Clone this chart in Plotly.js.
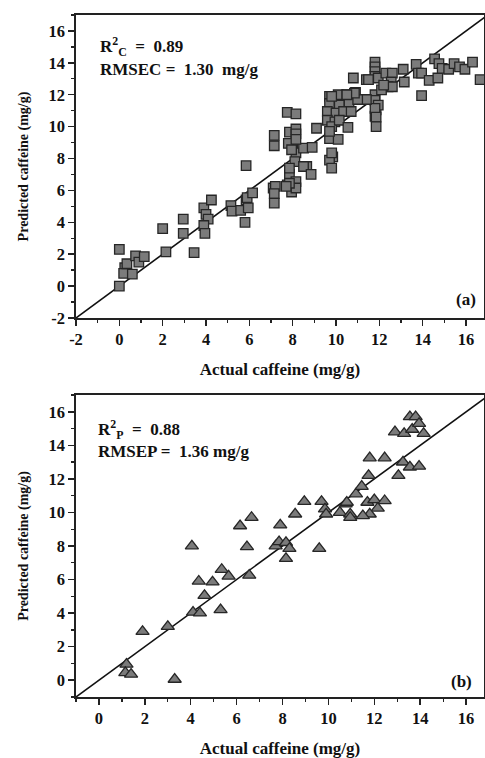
<!DOCTYPE html>
<html>
<head>
<meta charset="utf-8">
<script src="https://cdn.plot.ly/plotly-3.0.1.min.js"></script>
<style>
  html, body { margin: 0; padding: 0; background: #fff; }
  #chart { width: 485px; height: 758px; }
</style>
</head>
<body>
<div id="chart"></div>
<script>
// ---- Calibration set (a) ----
const calActual = [
  0, 0, 0.25, 0.2, 0.35, 0.6, 0.75, 0.9, 1.15,
  2.0, 2.15, 2.95, 2.95, 3.45, 3.9, 4.0, 4.1, 4.25, 3.9, 3.95,
  5.15, 5.2, 5.6, 5.8, 5.85, 5.85, 5.9, 5.95, 6.15,
  7.15, 7.15, 7.1, 7.2, 7.15, 7.15,
  7.75, 8.15, 7.85, 8.15, 8.15, 8.0, 8.15, 8.5, 8.1, 7.85, 8.15, 7.75, 7.95, 8.15, 8.65,
  7.8, 8.15, 7.95, 8.9, 8.5, 7.85, 8.85, 7.85, 7.7, 9.1,
  9.7, 9.7, 10.1, 10.5, 10.9, 10.95, 10.6, 10.15, 9.6, 10.0, 10.35, 10.7, 9.6, 9.95, 9.8,
  10.15, 10.55, 9.7, 10.1, 9.7, 9.85, 9.7, 9.8, 9.8,
  10.8, 11.4, 11.8, 11.8, 11.8, 11.8, 11.5, 11.95, 12.3, 12.6, 12.55, 12.4, 13.1, 13.15,
  13.7, 13.8, 13.95, 13.95, 14.3, 14.7, 14.55, 14.75, 14.9, 15.2, 15.45, 15.7, 15.95, 16.3, 16.65,
  11.3, 11.8, 11.8, 11.85, 11.8, 11.95, 12.1, 11.8, 11.85, 11.85, 11.4, 11.0, 10.85, 10.5, 9.8,
  12.6, 12.2
];
const calPredicted = [
  0, 2.3, 1.15, 0.8, 1.4, 0.75, 1.9, 1.5, 1.85,
  3.6, 2.15, 4.2, 3.3, 2.1, 4.9, 4.5, 4.2, 5.4, 3.8, 3.3,
  5.05, 4.7, 4.75, 4.0, 7.55, 5.4, 5.55, 4.9, 5.85,
  9.45, 8.8, 6.15, 6.25, 5.8, 5.2,
  10.9, 10.8, 9.65, 9.85, 9.55, 8.9, 8.35, 8.65, 7.8, 7.0, 6.55, 6.35, 5.9, 6.15, 7.5,
  8.95, 9.2, 8.55, 8.7, 7.5, 7.4, 7.0, 6.45, 6.25, 9.9,
  11.9, 11.45, 12.0, 12.0, 12.15, 11.7, 11.45, 11.35, 10.95, 10.85, 10.95, 10.95, 10.4, 10.3, 10.0,
  10.4, 9.95, 9.25, 9.2, 9.7, 8.1, 7.9, 7.4, 8.35,
  13.05, 12.95, 14.05, 13.75, 13.45, 13.15, 12.95, 13.05, 13.35, 13.35, 12.8, 12.5, 13.6, 12.8,
  13.9, 13.35, 13.35, 11.95, 12.9, 13.05, 14.25, 13.95, 13.65, 13.6, 13.95, 13.75, 13.6, 14.05, 12.95,
  11.7, 12.0, 11.65, 11.05, 10.65, 11.35, 12.3, 11.15, 10.6, 10.0, 11.7, 11.7, 12.1, 12.0, 11.9,
  12.5, 12.6
];

// ---- Prediction set (b) ----
const predActual = [
  1.2, 1.15, 1.4, 1.9, 3.0, 3.3, 4.1, 4.4, 5.3, 4.6, 4.35, 4.95, 5.35, 5.65, 6.55,
  4.05, 6.45, 6.15, 6.65, 7.9, 7.7, 7.85, 8.15, 8.3, 8.15, 9.6,
  8.55, 8.95, 9.7, 9.85, 9.9, 10.5, 10.75, 10.95, 10.95, 10.8,
  11.2, 11.45, 11.75, 11.7, 12.0, 12.45, 12.15, 11.8, 11.5,
  11.8, 12.45, 13.05, 13.25, 13.55, 13.95,
  12.9, 13.3, 13.65, 14.15, 13.55, 13.8, 13.95
];
const predPredicted = [
  0.95, 0.45, 0.35, 2.9, 3.2, 0.05, 4.05, 4.0, 4.2, 5.05, 5.9, 5.85, 6.6, 6.2, 6.25,
  8.0, 7.95, 9.2, 9.7, 9.25, 8.0, 8.25, 8.2, 7.85, 7.25, 7.85,
  9.9, 10.65, 10.65, 10.2, 9.9, 10.0, 10.5, 9.9, 9.7, 10.6,
  11.1, 11.55, 12.2, 10.6, 10.75, 10.7, 10.25, 9.9, 9.8,
  13.25, 13.25, 12.2, 13.0, 12.7, 12.75,
  14.8, 14.7, 14.95, 14.7, 15.7, 15.7, 15.3
];

// reference line y = x
const diagA = [-2, 17];
const diagB = [-1, 17];

const tickVals = [-2, 0, 2, 4, 6, 8, 10, 12, 14, 16];
const tickValsB = [0, 2, 4, 6, 8, 10, 12, 14, 16];

const serif = 'Liberation Serif, Times New Roman, serif';
const markerFill = '#7b7b7b';
const markerEdge = '#262626';

const traces = [
  { x: diagA, y: diagA, mode: 'lines', line: { color: '#111', width: 1.6 },
    xaxis: 'x', yaxis: 'y', hoverinfo: 'skip' },
  { x: calActual, y: calPredicted, mode: 'markers', type: 'scatter',
    marker: { symbol: 'square', size: 9.5, color: markerFill, line: { color: markerEdge, width: 1.3 } },
    xaxis: 'x', yaxis: 'y', cliponaxis: false },
  { x: diagB, y: diagB, mode: 'lines', line: { color: '#111', width: 1.6 },
    xaxis: 'x2', yaxis: 'y2', hoverinfo: 'skip' },
  { x: predActual, y: predPredicted, mode: 'markers', type: 'scatter',
    marker: { symbol: 'triangle-up', size: 11.5, color: markerFill, line: { color: markerEdge, width: 1.3 } },
    xaxis: 'x2', yaxis: 'y2', cliponaxis: false }
];

const tickFont = { family: serif, size: 16.5, color: '#111', weight: 'bold' };
const xTitleFont = { family: serif, size: 17, color: '#111', weight: 'bold' };
const yTitleFont = { family: serif, size: 14, color: '#111', weight: 'bold' };

function xax(range, vals, anchor, standoff) {
  return {
    range: range, tickvals: vals, ticktext: vals.map(String), anchor: anchor, domain: [0, 1],
    showgrid: false, zeroline: false, showline: true, mirror: true,
    linecolor: '#222', linewidth: 1.7, ticks: 'outside', ticklen: 6, tickwidth: 1.5, tickcolor: '#222',
    minor: { dtick: 1, ticks: 'outside', ticklen: 3.5, tickwidth: 1.3, tickcolor: '#222' },
    tickfont: tickFont, title: { text: 'Actual caffeine (mg/g)', font: xTitleFont, standoff: standoff }
  };
}
function yax(range, vals, anchor, dom) {
  return {
    range: range, tickvals: vals, ticktext: vals.map(String), anchor: anchor, domain: dom,
    showgrid: false, zeroline: false, showline: true, mirror: true,
    linecolor: '#222', linewidth: 1.7, ticks: 'outside', ticklen: 6, tickwidth: 1.5, tickcolor: '#222',
    minor: { dtick: 1, ticks: 'outside', ticklen: 3.5, tickwidth: 1.3, tickcolor: '#222' },
    tickfont: tickFont, title: { text: 'Predicted caffeine (mg/g)', font: yTitleFont, standoff: 16 }
  };
}

const annFont = { family: serif, size: 17, color: '#111', weight: 'bold' };

const layout = {
  width: 485, height: 758,
  margin: { l: 76, r: 1, t: 0, b: 0 },
  paper_bgcolor: '#fff', plot_bgcolor: '#fff',
  showlegend: false,
  xaxis: xax([-2, 16.83], tickVals, 'y', 14),
  yaxis: yax([-2, 17], tickVals, 'x', [0.5805, 0.9802]),
  xaxis2: xax([-1, 16.78], tickValsB, 'y2', 16),
  yaxis2: yax([-1, 17], tickValsB, 'x2', [0.0805, 0.4789]),
  annotations: [
    { xref: 'paper', yref: 'paper', x: 0.054, y: 0.938, xanchor: 'left', yanchor: 'middle',
      text: 'R<sup>2</sup><sub>C</sub>  =  0.89', showarrow: false, font: annFont },
    { xref: 'paper', yref: 'paper', x: 0.054, y: 0.908, xanchor: 'left', yanchor: 'middle',
      text: 'RMSEC =  1.30  mg/g', showarrow: false, font: annFont },
    { xref: 'paper', yref: 'paper', x: 0.985, y: 0.605, xanchor: 'right', yanchor: 'middle',
      text: '(a)', showarrow: false, font: annFont },
    { xref: 'paper', yref: 'paper', x: 0.05, y: 0.433, xanchor: 'left', yanchor: 'middle',
      text: 'R<sup>2</sup><sub>P</sub>  =  0.88', showarrow: false, font: annFont },
    { xref: 'paper', yref: 'paper', x: 0.05, y: 0.404, xanchor: 'left', yanchor: 'middle',
      text: 'RMSEP =  1.36 mg/g', showarrow: false, font: annFont },
    { xref: 'paper', yref: 'paper', x: 0.975, y: 0.101, xanchor: 'right', yanchor: 'middle',
      text: '(b)', showarrow: false, font: annFont }
  ]
};

Plotly.newPlot('chart', traces, layout, { displayModeBar: false, staticPlot: true });
</script>
</body>
</html>
